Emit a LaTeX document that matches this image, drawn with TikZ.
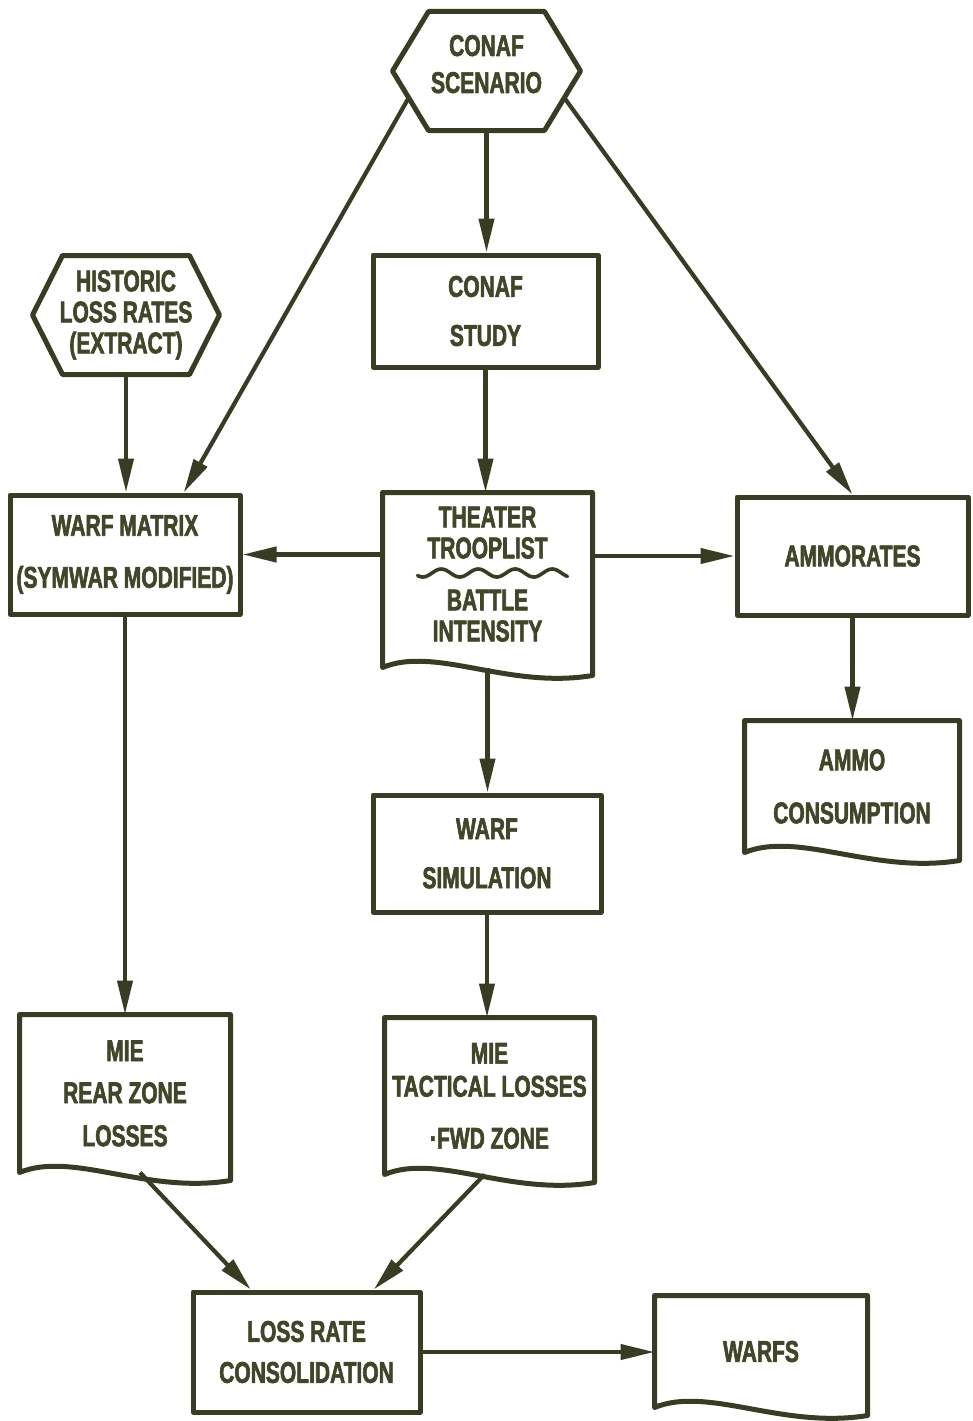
\documentclass[tikz,border=0pt]{standalone}
\usepackage{fontspec}
\usetikzlibrary{arrows.meta,calc}
\newfontfamily\lblfont[FakeStretch=0.7, FakeBold=2]{Liberation Sans}
\definecolor{ink}{RGB}{56,60,34}
\definecolor{txt}{RGB}{66,70,40}

\tikzset{
  boxline/.style={draw=ink, line width=5pt, line join=round},
  plainbox/.style={rectangle, boxline, inner sep=0pt, align=center, text=txt,
    font=\lblfont\bfseries\fontsize{30}{31}\selectfont},
  shapebox/.style={plainbox, draw=none},
  size/.style 2 args={minimum width=#1pt, minimum height=#2pt},
  flow/.style={draw=ink, line width=4.2pt, -{Triangle[length=34pt,width=15pt]}},
}

% elongated hexagon drawn round a node; #2 = horizontal inset of the slanted sides
\newcommand{\hexoutline}[2]{%
  \draw[boxline] ($(#1.north west)+(#2pt,0)$) -- ($(#1.north east)-(#2pt,0)$)
    -- (#1.east) -- ($(#1.south east)-(#2pt,0)$) -- ($(#1.south west)+(#2pt,0)$)
    -- (#1.west) -- cycle;}

% document symbol (wavy lower edge) drawn round a node
\newcommand{\docoutline}[1]{%
  \draw[boxline] let \p1=(#1.south west), \p2=(#1.north east), \n1={\x2-\x1} in
    (\x1,\y2) -- (\x1,\y1)
    .. controls (\x1+0.25*\n1,\y1+22pt) and (\x1+0.6*\n1,\y1-22pt) .. (\x2,\y1-8pt)
    -- (\x2,\y2) -- cycle;}

\begin{document}
\begin{tikzpicture}[x=1pt,y=-1pt]
\fill[white] (0,0) rectangle (972,1421);
\useasboundingbox (0,0) rectangle (972,1421);

% ---- nodes ----
\node[shapebox, size={183}{114}] (scen) at (486.5,71)
  {CONAF\\[6pt]SCENARIO\rule[-14pt]{0pt}{1pt}};
\node[plainbox, size={225}{112}] (study) at (485.5,311) {CONAF\\[18pt]STUDY};
\node[shapebox, size={182}{114}] (hist) at (126,315) {HISTORIC\\LOSS RATES\\(EXTRACT)};
\node[plainbox, size={230}{119}] (matrix) at (125,554.5)
  {WARF MATRIX\\[21pt](SYMWAR MODIFIED)};
\node[shapebox, size={205}{170}] (theater) at (487.5,580)
  {THEATER\\TROOPLIST\\[21pt]BATTLE\\INTENSITY\rule[-12pt]{0pt}{1pt}};
\node[plainbox, size={231}{118}] (ammor) at (852.5,556) {AMMORATES};
\node[shapebox, size={210}{127}] (ammo) at (852,786.5) {AMMO\\[22pt]CONSUMPTION};
\node[plainbox, size={228}{117}] (sim) at (487,853.5) {WARF\\[18pt]SIMULATION};
\node[shapebox, size={206}{153}] (rear) at (125,1093.5)
  {MIE\\[11pt]REAR ZONE\\[12pt]LOSSES};
\node[shapebox, size={205}{152}] (tact) at (489.5,1096)
  {MIE\\[2pt]TACTICAL LOSSES\\[21pt]·FWD ZONE};
\node[plainbox, size={227}{120}] (loss) at (306.5,1352) {LOSS RATE\\[10pt]CONSOLIDATION};
\node[shapebox, size={208}{107}] (warfs) at (761,1351.5) {WARFS};

% ---- outlines ----
\hexoutline{scen}{36}
\hexoutline{hist}{30}
\docoutline{theater}
\docoutline{ammo}
\docoutline{rear}
\docoutline{tact}
\docoutline{warfs}

% wavy separator inside the theater document
\begin{scope}[shift={(theater.center)}]
  \draw[draw=ink, line width=3.6pt, line cap=round]
    plot[domain=-70:80, samples=120, smooth] (\x, {-7+4*sin(\x*9.73)});
\end{scope}

% ---- connectors ----
\coordinate (scen-bl) at ($(scen.south west)+(36pt,0)$);
\coordinate (scen-br) at ($(scen.south east)-(36pt,0)$);

\draw[flow] (scen.south) -- (scen.south |- study.north);
\draw[flow] ($(scen.west)!0.45!(scen-bl)$) -- ($(matrix.north)!0.5!(matrix.north east)$);
\draw[flow] ($(scen.east)!0.45!(scen-br)$) -- (ammor.north);
\draw[flow] (study.south) -- (study.south |- theater.north);
\draw[flow] (hist.south) -- (hist.south |- matrix.north);
\draw[flow] (theater.west |- matrix.east) -- (matrix.east);
\draw[flow] (theater.east |- ammor.west) -- (ammor.west);
\draw[flow] (ammor.south) -- (ammor.south |- ammo.north);
\draw[flow] (theater.south) -- (theater.south |- sim.north);
\draw[flow] (matrix.south) -- (matrix.south |- rear.north);
\draw[flow] (sim.south) -- (sim.south |- tact.north);
\draw[flow] ([xshift=15pt]rear.south) -- ($(loss.north west)!0.26!(loss.north east)$);
\draw[flow] ([xshift=-5pt]tact.south) -- ($(loss.north west)!0.79!(loss.north east)$);
\draw[flow] (loss.east) -- (loss.east -| warfs.west);
\end{tikzpicture}
\end{document}
